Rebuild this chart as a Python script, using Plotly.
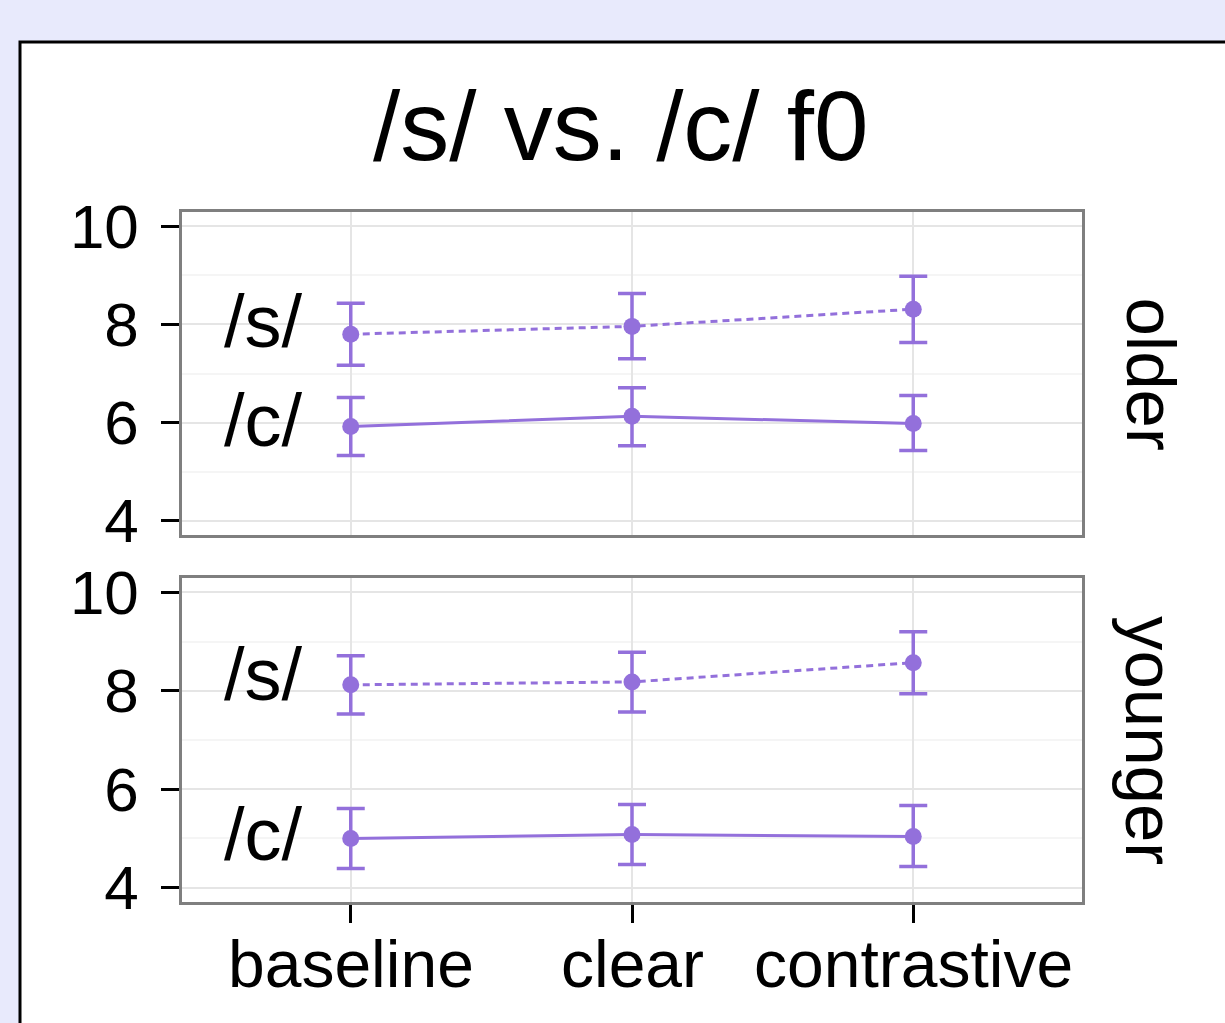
import plotly.graph_objects as go

# ---------------- data ----------------
conditions = ["baseline", "clear", "contrastive"]
groups = ["older", "younger"]
sounds = ["/s/", "/c/"]

older_s = [7.80, 7.96, 8.31]
older_s_hi = [8.43, 8.63, 8.98]
older_s_lo = [7.17, 7.30, 7.63]

older_c = [5.92, 6.13, 5.98]
older_c_hi = [6.51, 6.71, 6.55]
older_c_lo = [5.33, 5.53, 5.43]

younger_s = [8.12, 8.18, 8.57]
younger_s_hi = [8.71, 8.78, 9.20]
younger_s_lo = [7.53, 7.57, 7.94]

younger_c = [5.00, 5.08, 5.04]
younger_c_hi = [5.61, 5.69, 5.67]
younger_c_lo = [4.39, 4.47, 4.43]

y_ticks = [4, 6, 8, 10]
title_text = "/s/ vs. /c/ f0"

# ---------------- style ----------------
PURPLE = "#9370DB"
FONT = "Liberation Sans, Arial, Helvetica, sans-serif"
W, H = 1225, 1023
ML, MR, MT, MB = 182, 143, 212, 121
PW = W - ML - MR
PH = H - MT - MB

fig = go.Figure()

series = {
    "older": [(older_s, older_s_hi, older_s_lo, "dot"), (older_c, older_c_hi, older_c_lo, "solid")],
    "younger": [(younger_s, younger_s_hi, younger_s_lo, "dot"), (younger_c, younger_c_hi, younger_c_lo, "solid")],
}
axes = {"older": ("x2", "y2"), "younger": ("x", "y")}

for g in groups:
    xa, ya = axes[g]
    for (vals, hi, lo, dash), snd in zip(series[g], sounds):
        fig.add_trace(go.Scatter(
            x=conditions, y=vals, xaxis=xa, yaxis=ya,
            mode="lines+markers",
            line=dict(color=PURPLE, width=3, dash="7px,5px" if dash == "dot" else "solid"),
            marker=dict(color=PURPLE, size=17),
            error_y=dict(type="data", symmetric=False,
                         array=[h - v for h, v in zip(hi, vals)],
                         arrayminus=[v - l for v, l in zip(vals, lo)],
                         color=PURPLE, thickness=3.5, width=14),
            showlegend=False, hoverinfo="skip",
        ))
        fig.add_annotation(
            x=-0.31, y=sum(vals) / len(vals), xref=xa, yref=ya,
            text=snd, showarrow=False,
            font=dict(family=FONT, size=74, color="black"),
            xanchor="center", yanchor="middle", yshift=2,
        )

common_y = dict(
    range=[3.71, 10.29], tickvals=y_ticks, ticks="outside", ticklen=18,
    tickwidth=3, tickcolor="black", showline=True, mirror=True,
    linecolor="#7F7F7F", linewidth=2.5, showgrid=True, gridcolor="#E5E5E5",
    gridwidth=1.5, zeroline=False, ticklabelstandoff=10,
    tickfont=dict(family=FONT, size=62, color="black"),
    minor=dict(dtick=1, tick0=0, showgrid=True, gridcolor="#F5F5F5", gridwidth=1.5, ticks=""),
)
common_x = dict(
    type="category", range=[-0.6, 2.6], showline=True, mirror=True,
    linecolor="#7F7F7F", linewidth=2.5, showgrid=True, gridcolor="#E5E5E5",
    gridwidth=1.5, zeroline=False, showticklabels=False,
)

d_low = (PH - (902 - 578)) / PH
d_high = (902 - 535) / PH
fig.update_layout(
    width=W, height=H,
    margin=dict(l=ML, r=MR, t=MT, b=MB),
    paper_bgcolor="#E8EAFC", plot_bgcolor="white",
    xaxis=dict(**common_x, anchor="y", ticks="outside", ticklen=18, tickwidth=3,
               tickcolor="black"),
    xaxis2=dict(**common_x, anchor="y2", matches="x", ticks=""),
    yaxis=dict(**common_y, domain=[0, 1 - d_low], anchor="x"),
    yaxis2=dict(**common_y, domain=[d_high, 1], anchor="x2"),
    showlegend=False,
)

# x tick labels (category names) under the bottom panel
for c in conditions:
    fig.add_annotation(text=c, x=c, xref="x", y=0, yref="paper",
                       showarrow=False, xanchor="center", yanchor="middle", yshift=-62,
                       font=dict(family=FONT, size=66, color="black"))

# white panel with black frame behind the plot
fig.add_shape(type="rect", xref="paper", yref="paper",
              x0=(20 - ML) / PW, x1=(W + 20 - ML) / PW,
              y0=(MT + PH - (H + 20)) / PH, y1=(MT + PH - 42) / PH,
              fillcolor="white", line=dict(color="black", width=3), layer="below")

# title
fig.add_annotation(text=title_text, xref="paper", yref="paper",
                   x=(621 - ML) / PW, y=(MT + PH - 126) / PH,
                   showarrow=False, xanchor="center", yanchor="middle",
                   font=dict(family=FONT, size=98, color="black"))

# facet strip labels
for g, (lo_px, hi_px) in zip(groups, [(212, 535), (578, 902)]):
    fig.add_annotation(text=g, xref="paper", yref="paper",
                       x=(1150 - ML) / PW, y=(MT + PH - (lo_px + hi_px) / 2) / PH,
                       showarrow=False, textangle=90, xanchor="center", yanchor="middle",
                       font=dict(family=FONT, size=69, color="black"))

fig.write_html("out.html", config={"displayModeBar": False},
               post_script="document.body.style.margin='0px';")
